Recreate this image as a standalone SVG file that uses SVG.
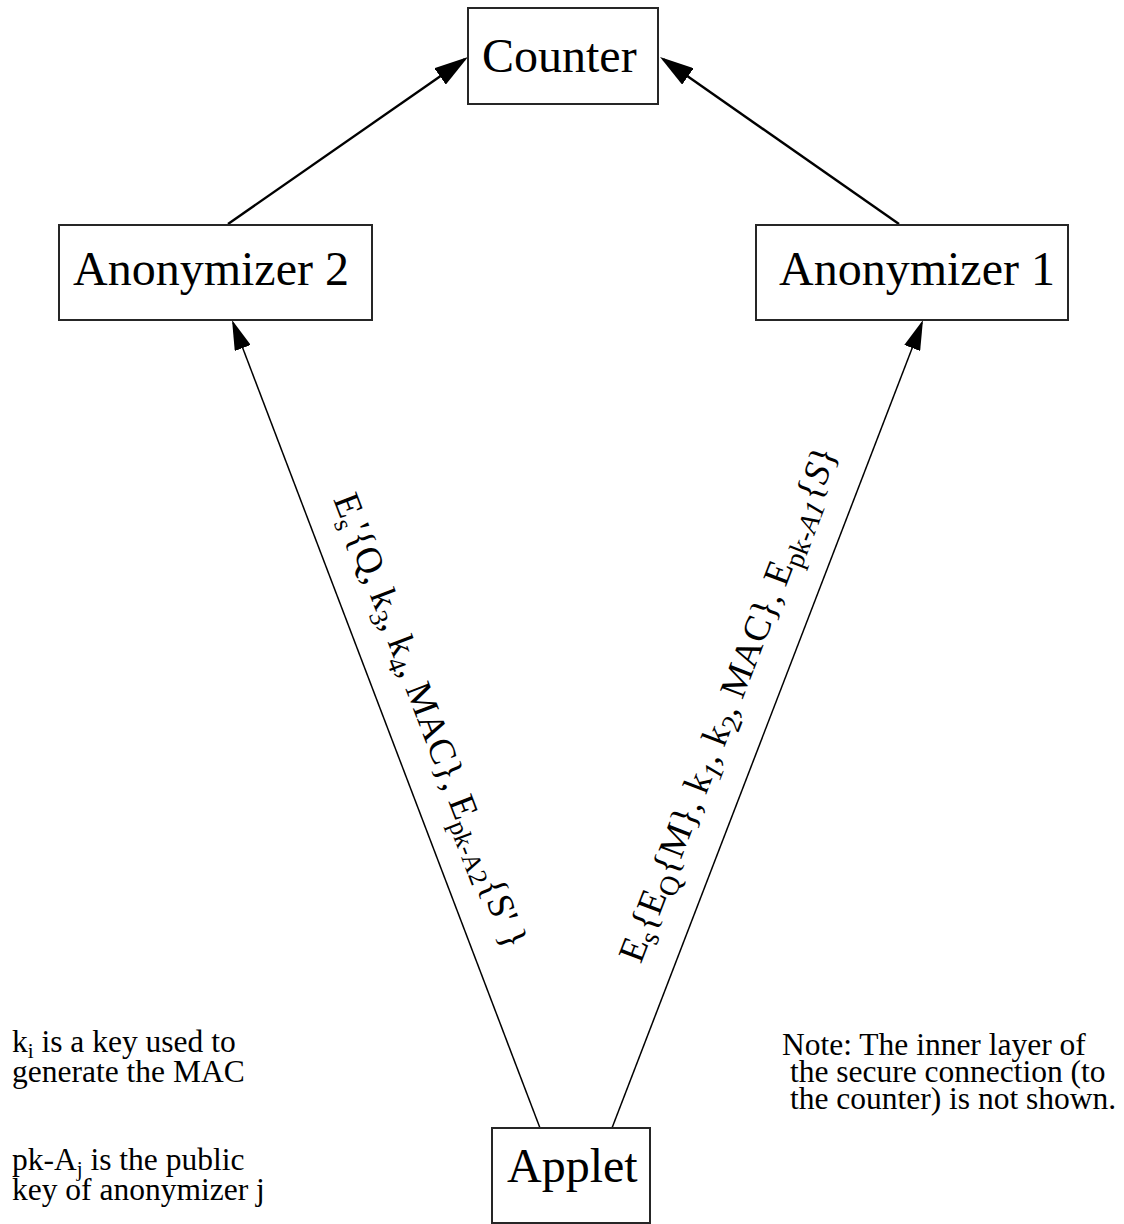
<svg xmlns="http://www.w3.org/2000/svg" width="1124" height="1224" viewBox="0 0 1124 1224">
<defs>
<style>
.box{fill:#fff;stroke:#262626;stroke-width:2}
.big{font-family:"Liberation Serif","Times New Roman",serif;font-size:48px;fill:#000}
.lbl{font-family:"Liberation Serif","Times New Roman",serif;font-size:37px;fill:#000}
.note{font-family:"Liberation Serif","Times New Roman",serif;font-size:31.5px;fill:#000}
.thick{stroke:#000;stroke-width:2.4;fill:none}
.thin{stroke:#000;stroke-width:1.5;fill:none}
</style>
<marker id="ahBig" markerUnits="userSpaceOnUse" viewBox="0 -10 34 20" markerWidth="34" markerHeight="20" refX="30" refY="0" orient="auto">
<path d="M0,-10 L34,0 L0,10 z" fill="#000"/>
</marker>
<marker id="ahSmall" markerUnits="userSpaceOnUse" viewBox="0 -8.5 30 17" markerWidth="30" markerHeight="17" refX="27" refY="0" orient="auto">
<path d="M0,-8.5 L30,0 L0,8.5 z" fill="#000"/>
</marker>
</defs>
<rect width="1124" height="1224" fill="#fff"/>
<g id="connectors">
<line class="thick" x1="228" y1="224" x2="464.7" y2="59.3" marker-end="url(#ahBig)"/>
<line class="thick" x1="899" y1="224" x2="663.3" y2="59.3" marker-end="url(#ahBig)"/>
<line class="thin" x1="540" y1="1128" x2="233.1" y2="322.8" marker-end="url(#ahSmall)"/>
<line class="thin" x1="612" y1="1128" x2="921.9" y2="322.8" marker-end="url(#ahSmall)"/>
<g id="label-left" transform="translate(304,510) rotate(69.13)">
<text class="lbl" x="0" y="-31">E<tspan font-size="26" dy="8">s</tspan><tspan dy="-8">'{Q, k</tspan><tspan font-size="26" dy="8">3</tspan><tspan dy="-8">, k</tspan><tspan font-size="26" dy="8">4</tspan><tspan dy="-8">, MAC}, E</tspan><tspan font-size="26" dy="8">pk-A2</tspan><tspan dy="-8">{S' }</tspan></text>
</g>
<g id="label-right" transform="translate(670.5,976) rotate(-68.95)">
<text class="lbl" x="0" y="-32" font-size="39">E<tspan font-size="28" dy="8">s</tspan><tspan dy="-8">{E</tspan><tspan font-size="28" dy="8">Q</tspan><tspan dy="-8">{M}, k</tspan><tspan font-size="28" dy="8" font-style="italic">1</tspan><tspan dy="-8">, k</tspan><tspan font-size="28" dy="8">2</tspan><tspan dy="-8">, MAC}, E</tspan><tspan font-size="28" dy="8">pk-<tspan font-style="italic">A1</tspan></tspan><tspan dy="-8">{<tspan font-style="italic">S</tspan>}</tspan></text>
</g>
</g>
<g id="counter">
<rect class="box" x="468" y="8" width="190" height="96"/>
<text class="big" x="482" y="72">Counter</text>
</g>
<g id="anonymizer2">
<rect class="box" x="59" y="225" width="313" height="95"/>
<text class="big" x="73" y="285">Anonymizer 2</text>
</g>
<g id="anonymizer1">
<rect class="box" x="756" y="225" width="312" height="95"/>
<text class="big" x="779" y="285">Anonymizer 1</text>
</g>
<g id="applet">
<rect class="box" x="492" y="1128" width="158" height="95"/>
<text class="big" x="507" y="1182">Applet</text>
</g>
<g id="notes">
<text class="note" x="12" y="1052">k<tspan font-size="21" dy="6">i</tspan><tspan dy="-6"> is a key used to</tspan></text>
<text class="note" x="12" y="1082">generate the MAC</text>
<text class="note" x="12" y="1170">pk-A<tspan font-size="21" dy="6">j</tspan><tspan dy="-6"> is the public</tspan></text>
<text class="note" x="12" y="1200">key of anonymizer j</text>
<text class="note" x="782" y="1055">Note: The inner layer of</text>
<text class="note" x="782" y="1082" xml:space="preserve"> the secure connection (to</text>
<text class="note" x="782" y="1109" xml:space="preserve"> the counter) is not shown.</text>
</g>
</svg>
